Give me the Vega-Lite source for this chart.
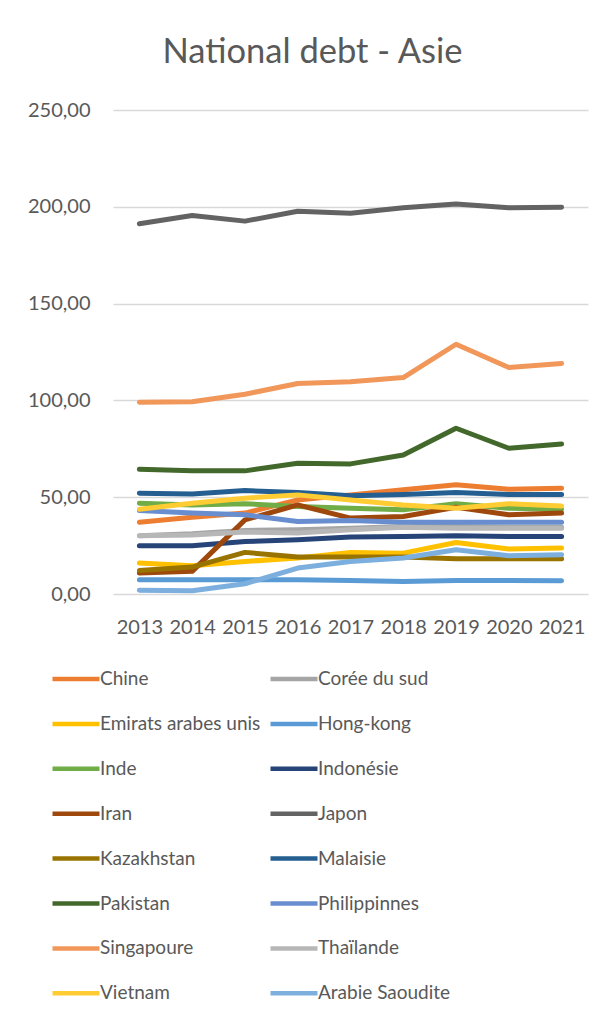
{
  "$schema": "https://vega.github.io/schema/vega-lite/v6.json",
  "autosize": {"type": "none"},
  "padding": {"left": 113, "top": 110, "right": 27, "bottom": 433},
  "width": 475,
  "height": 484,
  "background": "white",
  "config": {"view": {"stroke": null}, "font": "Lato"},
  "title": {"text": "National debt - Asie", "fontSize": 34.5, "font": "Lato", "fontWeight": "normal", "color": "#595959", "anchor": "middle", "dx": -38, "baseline": "alphabetic", "offset": 3},
  "data": {"values": [
    {"pays":"Chine","annee":"2013","v":37.1},{"pays":"Chine","annee":"2014","v":39.7},{"pays":"Chine","annee":"2015","v":41.8},{"pays":"Chine","annee":"2016","v":48.6},{"pays":"Chine","annee":"2017","v":51.2},{"pays":"Chine","annee":"2018","v":53.8},{"pays":"Chine","annee":"2019","v":56.4},{"pays":"Chine","annee":"2020","v":54.1},{"pays":"Chine","annee":"2021","v":54.6},
    {"pays":"Corée du sud","annee":"2013","v":30.1},{"pays":"Corée du sud","annee":"2014","v":31.1},{"pays":"Corée du sud","annee":"2015","v":32.8},{"pays":"Corée du sud","annee":"2016","v":33.2},{"pays":"Corée du sud","annee":"2017","v":34.0},{"pays":"Corée du sud","annee":"2018","v":34.9},{"pays":"Corée du sud","annee":"2019","v":34.9},{"pays":"Corée du sud","annee":"2020","v":34.5},{"pays":"Corée du sud","annee":"2021","v":34.5},
    {"pays":"Emirats arabes unis","annee":"2013","v":16.0},{"pays":"Emirats arabes unis","annee":"2014","v":14.6},{"pays":"Emirats arabes unis","annee":"2015","v":16.8},{"pays":"Emirats arabes unis","annee":"2016","v":18.6},{"pays":"Emirats arabes unis","annee":"2017","v":21.5},{"pays":"Emirats arabes unis","annee":"2018","v":21.1},{"pays":"Emirats arabes unis","annee":"2019","v":26.6},{"pays":"Emirats arabes unis","annee":"2020","v":23.2},{"pays":"Emirats arabes unis","annee":"2021","v":23.7},
    {"pays":"Hong-kong","annee":"2013","v":7.4},{"pays":"Hong-kong","annee":"2014","v":7.4},{"pays":"Hong-kong","annee":"2015","v":7.4},{"pays":"Hong-kong","annee":"2016","v":7.4},{"pays":"Hong-kong","annee":"2017","v":7.0},{"pays":"Hong-kong","annee":"2018","v":6.5},{"pays":"Hong-kong","annee":"2019","v":7.0},{"pays":"Hong-kong","annee":"2020","v":7.0},{"pays":"Hong-kong","annee":"2021","v":6.9},
    {"pays":"Inde","annee":"2013","v":46.9},{"pays":"Inde","annee":"2014","v":46.0},{"pays":"Inde","annee":"2015","v":46.6},{"pays":"Inde","annee":"2016","v":45.2},{"pays":"Inde","annee":"2017","v":44.3},{"pays":"Inde","annee":"2018","v":43.5},{"pays":"Inde","annee":"2019","v":46.6},{"pays":"Inde","annee":"2020","v":44.3},{"pays":"Inde","annee":"2021","v":43.8},
    {"pays":"Indonésie","annee":"2013","v":24.9},{"pays":"Indonésie","annee":"2014","v":24.9},{"pays":"Indonésie","annee":"2015","v":27.1},{"pays":"Indonésie","annee":"2016","v":28.0},{"pays":"Indonésie","annee":"2017","v":29.4},{"pays":"Indonésie","annee":"2018","v":29.7},{"pays":"Indonésie","annee":"2019","v":30.1},{"pays":"Indonésie","annee":"2020","v":29.7},{"pays":"Indonésie","annee":"2021","v":29.7},
    {"pays":"Iran","annee":"2013","v":10.8},{"pays":"Iran","annee":"2014","v":11.7},{"pays":"Iran","annee":"2015","v":38.3},{"pays":"Iran","annee":"2016","v":46.0},{"pays":"Iran","annee":"2017","v":39.2},{"pays":"Iran","annee":"2018","v":40.0},{"pays":"Iran","annee":"2019","v":44.8},{"pays":"Iran","annee":"2020","v":40.9},{"pays":"Iran","annee":"2021","v":41.8},
    {"pays":"Japon","annee":"2013","v":191.2},{"pays":"Japon","annee":"2014","v":195.5},{"pays":"Japon","annee":"2015","v":192.6},{"pays":"Japon","annee":"2016","v":197.7},{"pays":"Japon","annee":"2017","v":196.7},{"pays":"Japon","annee":"2018","v":199.5},{"pays":"Japon","annee":"2019","v":201.5},{"pays":"Japon","annee":"2020","v":199.5},{"pays":"Japon","annee":"2021","v":199.8},
    {"pays":"Kazakhstan","annee":"2013","v":12.2},{"pays":"Kazakhstan","annee":"2014","v":13.9},{"pays":"Kazakhstan","annee":"2015","v":21.5},{"pays":"Kazakhstan","annee":"2016","v":19.1},{"pays":"Kazakhstan","annee":"2017","v":19.1},{"pays":"Kazakhstan","annee":"2018","v":19.1},{"pays":"Kazakhstan","annee":"2019","v":18.2},{"pays":"Kazakhstan","annee":"2020","v":18.2},{"pays":"Kazakhstan","annee":"2021","v":18.2},
    {"pays":"Malaisie","annee":"2013","v":52.1},{"pays":"Malaisie","annee":"2014","v":51.7},{"pays":"Malaisie","annee":"2015","v":53.4},{"pays":"Malaisie","annee":"2016","v":52.4},{"pays":"Malaisie","annee":"2017","v":50.7},{"pays":"Malaisie","annee":"2018","v":51.4},{"pays":"Malaisie","annee":"2019","v":52.4},{"pays":"Malaisie","annee":"2020","v":51.4},{"pays":"Malaisie","annee":"2021","v":51.4},
    {"pays":"Pakistan","annee":"2013","v":64.4},{"pays":"Pakistan","annee":"2014","v":63.6},{"pays":"Pakistan","annee":"2015","v":63.6},{"pays":"Pakistan","annee":"2016","v":67.5},{"pays":"Pakistan","annee":"2017","v":67.2},{"pays":"Pakistan","annee":"2018","v":71.8},{"pays":"Pakistan","annee":"2019","v":85.6},{"pays":"Pakistan","annee":"2020","v":75.3},{"pays":"Pakistan","annee":"2021","v":77.5},
    {"pays":"Philippinnes","annee":"2013","v":43.1},{"pays":"Philippinnes","annee":"2014","v":41.8},{"pays":"Philippinnes","annee":"2015","v":40.9},{"pays":"Philippinnes","annee":"2016","v":37.5},{"pays":"Philippinnes","annee":"2017","v":38.0},{"pays":"Philippinnes","annee":"2018","v":37.1},{"pays":"Philippinnes","annee":"2019","v":37.1},{"pays":"Philippinnes","annee":"2020","v":37.1},{"pays":"Philippinnes","annee":"2021","v":37.1},
    {"pays":"Singapoure","annee":"2013","v":99.0},{"pays":"Singapoure","annee":"2014","v":99.3},{"pays":"Singapoure","annee":"2015","v":103.2},{"pays":"Singapoure","annee":"2016","v":108.7},{"pays":"Singapoure","annee":"2017","v":109.6},{"pays":"Singapoure","annee":"2018","v":111.8},{"pays":"Singapoure","annee":"2019","v":129.0},{"pays":"Singapoure","annee":"2020","v":117.0},{"pays":"Singapoure","annee":"2021","v":119.1},
    {"pays":"Thaïlande","annee":"2013","v":30.1},{"pays":"Thaïlande","annee":"2014","v":30.5},{"pays":"Thaïlande","annee":"2015","v":32.0},{"pays":"Thaïlande","annee":"2016","v":31.5},{"pays":"Thaïlande","annee":"2017","v":33.2},{"pays":"Thaïlande","annee":"2018","v":34.5},{"pays":"Thaïlande","annee":"2019","v":34.0},{"pays":"Thaïlande","annee":"2020","v":34.0},{"pays":"Thaïlande","annee":"2021","v":34.0},
    {"pays":"Vietnam","annee":"2013","v":43.8},{"pays":"Vietnam","annee":"2014","v":46.9},{"pays":"Vietnam","annee":"2015","v":49.5},{"pays":"Vietnam","annee":"2016","v":51.2},{"pays":"Vietnam","annee":"2017","v":48.6},{"pays":"Vietnam","annee":"2018","v":46.0},{"pays":"Vietnam","annee":"2019","v":44.3},{"pays":"Vietnam","annee":"2020","v":46.6},{"pays":"Vietnam","annee":"2021","v":45.5},
    {"pays":"Arabie Saoudite","annee":"2013","v":1.9},{"pays":"Arabie Saoudite","annee":"2014","v":1.7},{"pays":"Arabie Saoudite","annee":"2015","v":5.3},{"pays":"Arabie Saoudite","annee":"2016","v":13.4},{"pays":"Arabie Saoudite","annee":"2017","v":16.8},{"pays":"Arabie Saoudite","annee":"2018","v":18.6},{"pays":"Arabie Saoudite","annee":"2019","v":22.9},{"pays":"Arabie Saoudite","annee":"2020","v":19.8},{"pays":"Arabie Saoudite","annee":"2021","v":20.3}
  ]},
  "mark": {"type": "line", "strokeWidth": 5, "strokeCap": "round", "strokeJoin": "round"},
  "encoding": {
    "x": {"field": "annee", "type": "ordinal", "scale": {"type": "point", "padding": 0.5},
      "axis": {"title": null, "labelAngle": 0, "domain": false, "ticks": false, "labelFont": "Lato", "labelFontSize": 20, "labelColor": "#595959", "labelBaseline": "alphabetic", "labelPadding": 39}},
    "y": {"field": "v", "type": "quantitative", "scale": {"domain": [0, 250], "nice": false},
      "axis": {"title": null, "values": [0, 50, 100, 150, 200, 250], "labelExpr": "replace(format(datum.value, '.2f'), '.', ',')", "domain": false, "ticks": false, "gridColor": "#D9D9D9", "gridWidth": 1.3, "labelFont": "Lato", "labelFontSize": 20, "labelColor": "#595959", "labelPadding": 23}},
    "color": {"field": "pays", "type": "nominal",
      "scale": {
        "domain": ["Chine","Corée du sud","Emirats arabes unis","Hong-kong","Inde","Indonésie","Iran","Japon","Kazakhstan","Malaisie","Pakistan","Philippinnes","Singapoure","Thaïlande","Vietnam","Arabie Saoudite"],
        "range": ["#ED7D31","#A5A5A5","#FFC000","#5B9BD5","#70AD47","#264478","#9E480E","#636363","#997300","#255E91","#43682B","#698ED0","#F1975A","#B7B7B7","#FFCD33","#7CAFDD"]
      },
      "legend": {"title": null, "orient": "none", "legendX": -63, "legendY": 557, "columns": 2, "direction": "horizontal", "padding": 0,
        "symbolType": "stroke", "symbolSize": 2209, "symbolStrokeWidth": 4.5, "clipHeight": 24, "rowPadding": 20.9, "columnPadding": 7,
        "labelFont": "Lato", "labelFontSize": 19, "labelColor": "#595959", "labelOffset": -2, "labelLimit": 300}
    }
  }
}
